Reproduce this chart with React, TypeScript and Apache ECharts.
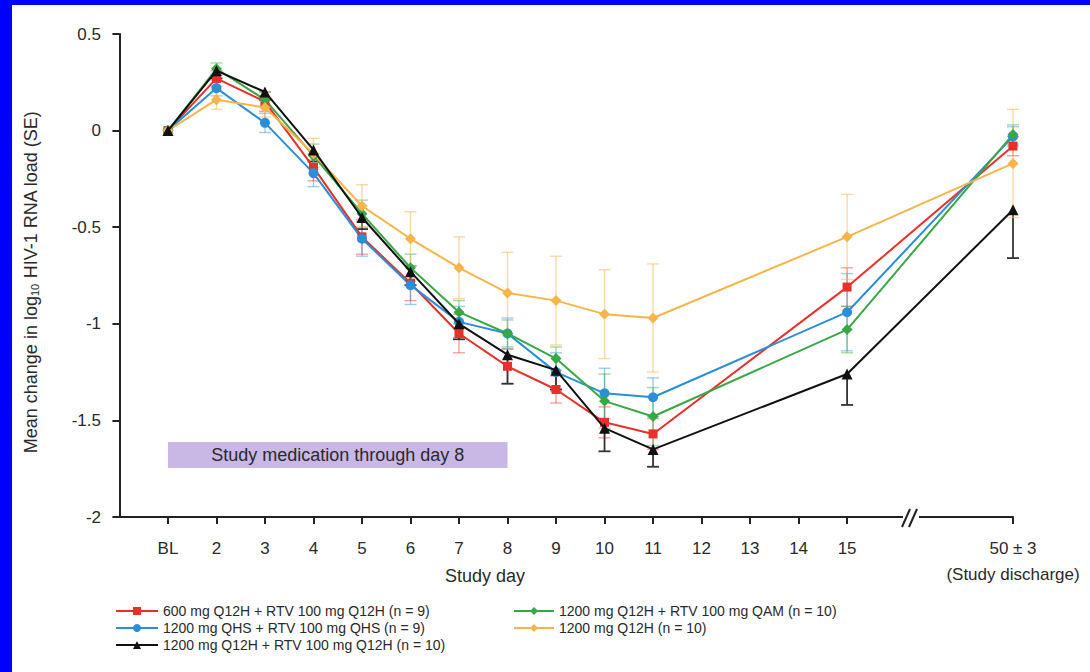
import React, { useEffect, useRef } from "react";
import * as echarts from "echarts";

// Axis positions of the study days (broken axis: discharge day drawn after the break)
const dayPositions = [1, 2, 3, 4, 5, 6, 7, 8, 9, 10, 11, 15, 18.42];
const tickPositions = [1, 2, 3, 4, 5, 6, 7, 8, 9, 10, 11, 12, 13, 14, 15, 18.42];
const tickLabels = ["BL", "2", "3", "4", "5", "6", "7", "8", "9", "10", "11", "12", "13", "14", "15", "50 ± 3\n(Study discharge)"];

const seriesNames = [
  "600 mg Q12H + RTV 100 mg Q12H (n = 9)",
  "1200 mg QHS + RTV 100 mg QHS (n = 9)",
  "1200 mg Q12H + RTV 100 mg Q12H (n = 10)",
  "1200 mg Q12H + RTV 100 mg QAM (n = 10)",
  "1200 mg Q12H (n = 10)",
];

const redMean = [0, 0.27, 0.15, -0.19, -0.55, -0.79, -1.05, -1.22, -1.34, -1.51, -1.57, -0.81, -0.08];
const blueMean = [0, 0.22, 0.04, -0.22, -0.56, -0.8, -0.99, -1.05, -1.25, -1.36, -1.38, -0.94, -0.03];
const blackMean = [0, 0.31, 0.2, -0.1, -0.45, -0.73, -1.0, -1.16, -1.24, -1.54, -1.65, -1.26, -0.41];
const greenMean = [0, 0.32, 0.16, -0.13, -0.43, -0.71, -0.94, -1.05, -1.18, -1.4, -1.48, -1.03, -0.02];
const orangeMean = [0, 0.16, 0.12, -0.12, -0.39, -0.56, -0.71, -0.84, -0.88, -0.95, -0.97, -0.55, -0.17];

const redSE = [0, 0.04, 0.05, 0.07, 0.09, 0.09, 0.1, 0.09, 0.07, 0.08, 0.08, 0.1, 0.05];
const blueSE = [0, 0.04, 0.05, 0.07, 0.09, 0.1, 0.08, 0.08, 0.1, 0.13, 0.1, 0.2, 0.05];
const blackSE = [0, 0.04, 0.04, 0.06, 0.06, 0.07, 0.08, 0.15, 0.1, 0.12, 0.09, 0.16, 0.25];
const greenSE = [0, 0.03, 0.04, 0.06, 0.07, 0.07, 0.06, 0.07, 0.06, 0.14, 0.15, 0.12, 0.05];
const orangeSE = [0, 0.05, 0.05, 0.08, 0.11, 0.14, 0.16, 0.21, 0.23, 0.23, 0.28, 0.22, 0.28];

const medicationStart = 1;
const medicationEnd = 8;
const medicationLabel = "Study medication through day 8";

const FONT = "Arial, 'Liberation Sans', Helvetica, sans-serif";
const TXT = "#2a2a2a";

export default function App() {
  const ref = useRef<HTMLDivElement>(null);

  useEffect(() => {
    if (!ref.current) return;
    const chart = echarts.init(ref.current, undefined, { renderer: "svg" });

    const defs = [
      { name: seriesNames[0], mean: redMean, se: redSE, color: "#e8302a", symbol: "rect", size: 9, barColor: "rgba(232,48,42,0.45)", down: false },
      { name: seriesNames[1], mean: blueMean, se: blueSE, color: "#2a8fd6", symbol: "circle", size: 10, barColor: "rgba(42,143,214,0.45)", down: false },
      { name: seriesNames[2], mean: blackMean, se: blackSE, color: "#111111", symbol: "triangle", size: 11, barColor: "#333333", down: true },
      { name: seriesNames[3], mean: greenMean, se: greenSE, color: "#38a845", symbol: "diamond", size: 11, barColor: "rgba(56,168,69,0.45)", down: false },
      { name: seriesNames[4], mean: orangeMean, se: orangeSE, color: "#f6b54a", symbol: "diamond", size: 11, barColor: "rgba(246,181,74,0.5)", down: false },
    ];

    const errorSeries = defs.map((d, i) => ({
      type: "custom",
      name: "eb" + i,
      clip: false,
      z: 1,
      data: dayPositions.map((x, k) => [x, d.mean[k], d.se[k]]),
      encode: { x: 0, y: 1 },
      renderItem: (params: any, api: any) => {
        const x = api.value(0);
        const y = api.value(1);
        const se = api.value(2);
        if (!se) return null;
        const hi = api.coord([x, d.down ? y : y + se]);
        const lo = api.coord([x, y - se]);
        const half = 6;
        const style = { stroke: d.barColor, lineWidth: d.down ? 1.8 : 1.4 };
        const children: any[] = [
          { type: "line", shape: { x1: hi[0], y1: hi[1], x2: lo[0], y2: lo[1] }, style },
          { type: "line", shape: { x1: lo[0] - half, y1: lo[1], x2: lo[0] + half, y2: lo[1] }, style },
        ];
        if (!d.down) {
          children.push({ type: "line", shape: { x1: hi[0] - half, y1: hi[1], x2: hi[0] + half, y2: hi[1] }, style });
        }
        return { type: "group", children };
      },
    }));

    const lineSeries = defs.map((d, i) => ({
      type: "line",
      name: d.name,
      data: dayPositions.map((x, k) => [x, d.mean[k]]),
      symbol: d.symbol,
      symbolSize: d.size,
      z: 3 + (i === 2 ? 1 : 0),
      lineStyle: { color: d.color, width: 2 },
      itemStyle: { color: d.color },
      ...(i === 0
        ? {
            markArea: {
              silent: true,
              itemStyle: { color: "#c9b7e6" },
              label: {
                show: true,
                position: "inside",
                color: TXT,
                fontFamily: FONT,
                fontSize: 18,
                formatter: medicationLabel,
              },
              data: [[{ xAxis: medicationStart, yAxis: -1.612 }, { xAxis: medicationEnd, yAxis: -1.746 }]],
            },
          }
        : {}),
    }));

    const legendText = { fontSize: 14, color: TXT, fontFamily: FONT };

    const option: any = {
      animation: false,
      backgroundColor: "#ffffff",
      textStyle: { fontFamily: FONT },
      grid: { left: 117, right: 77, top: 34, bottom: 155 },
      xAxis: {
        type: "value",
        min: -0.05,
        max: 18.42,
        splitLine: { show: false },
        axisLine: { show: true, onZero: false, lineStyle: { color: "#222", width: 2 } },
        axisTick: { show: true, customValues: tickPositions, length: 7, lineStyle: { color: "#222", width: 2 } },
        axisLabel: {
          customValues: tickPositions,
          margin: 18,
          fontSize: 17,
          color: TXT,
          fontFamily: FONT,
          lineHeight: 26,
          formatter: (v: number) => {
            const idx = tickPositions.findIndex((t) => Math.abs(t - v) < 0.01);
            return idx >= 0 ? tickLabels[idx] : "";
          },
        },
      },
      yAxis: {
        type: "value",
        min: -2,
        max: 0.5,
        interval: 0.5,
        splitLine: { show: false },
        axisLine: { show: true, lineStyle: { color: "#222", width: 2 } },
        axisTick: { show: true, length: 7, lineStyle: { color: "#222", width: 2 } },
        axisLabel: { fontSize: 17, color: TXT, margin: 16, fontFamily: FONT },
      },
      legend: [
        {
          orient: "vertical",
          left: 110,
          top: 599,
          itemGap: 3,
          itemWidth: 42,
          itemHeight: 10,
          data: [seriesNames[0], seriesNames[1], seriesNames[2]],
          textStyle: legendText,
        },
        {
          orient: "vertical",
          left: 508,
          top: 599,
          itemGap: 3,
          itemWidth: 40,
          itemHeight: 10,
          data: [seriesNames[3], seriesNames[4]],
          textStyle: legendText,
        },
      ],
      graphic: [
        { type: "rect", shape: { x: 0, y: 0, width: 12, height: 672 }, style: { fill: "#0000ff" }, z: 100 },
        { type: "rect", shape: { x: 0, y: 0, width: 1090, height: 5 }, style: { fill: "#0000ff" }, z: 100 },
        { type: "rect", shape: { x: 903, y: 510, width: 16, height: 14 }, style: { fill: "#ffffff" }, z: 50 },
        { type: "line", shape: { x1: 902, y1: 527, x2: 910, y2: 509 }, style: { stroke: "#222", lineWidth: 2 }, z: 51 },
        { type: "line", shape: { x1: 909, y1: 527, x2: 917, y2: 509 }, style: { stroke: "#222", lineWidth: 2 }, z: 51 },
        {
          type: "text",
          x: 485,
          y: 576,
          style: { text: "Study day", fontSize: 18, fill: TXT, fontFamily: FONT, align: "center", verticalAlign: "middle" },
          z: 51,
        },
        {
          type: "text",
          x: 31,
          y: 282,
          rotation: Math.PI / 2,
          style: {
            text: "Mean change in log{sub|10} HIV-1 RNA load (SE)",
            fontSize: 18,
            fill: TXT,
            fontFamily: FONT,
            align: "center",
            verticalAlign: "middle",
            rich: { sub: { fontSize: 11, fill: TXT, fontFamily: FONT, padding: [8, 0, 0, 0] } },
          },
          z: 51,
        },
      ],
      series: [...errorSeries, ...lineSeries],
    };

    chart.setOption(option);
    return () => chart.dispose();
  }, []);

  return <div ref={ref} style={{ position: "absolute", left: 0, top: 0, width: 1090, height: 672 }} />;
}
